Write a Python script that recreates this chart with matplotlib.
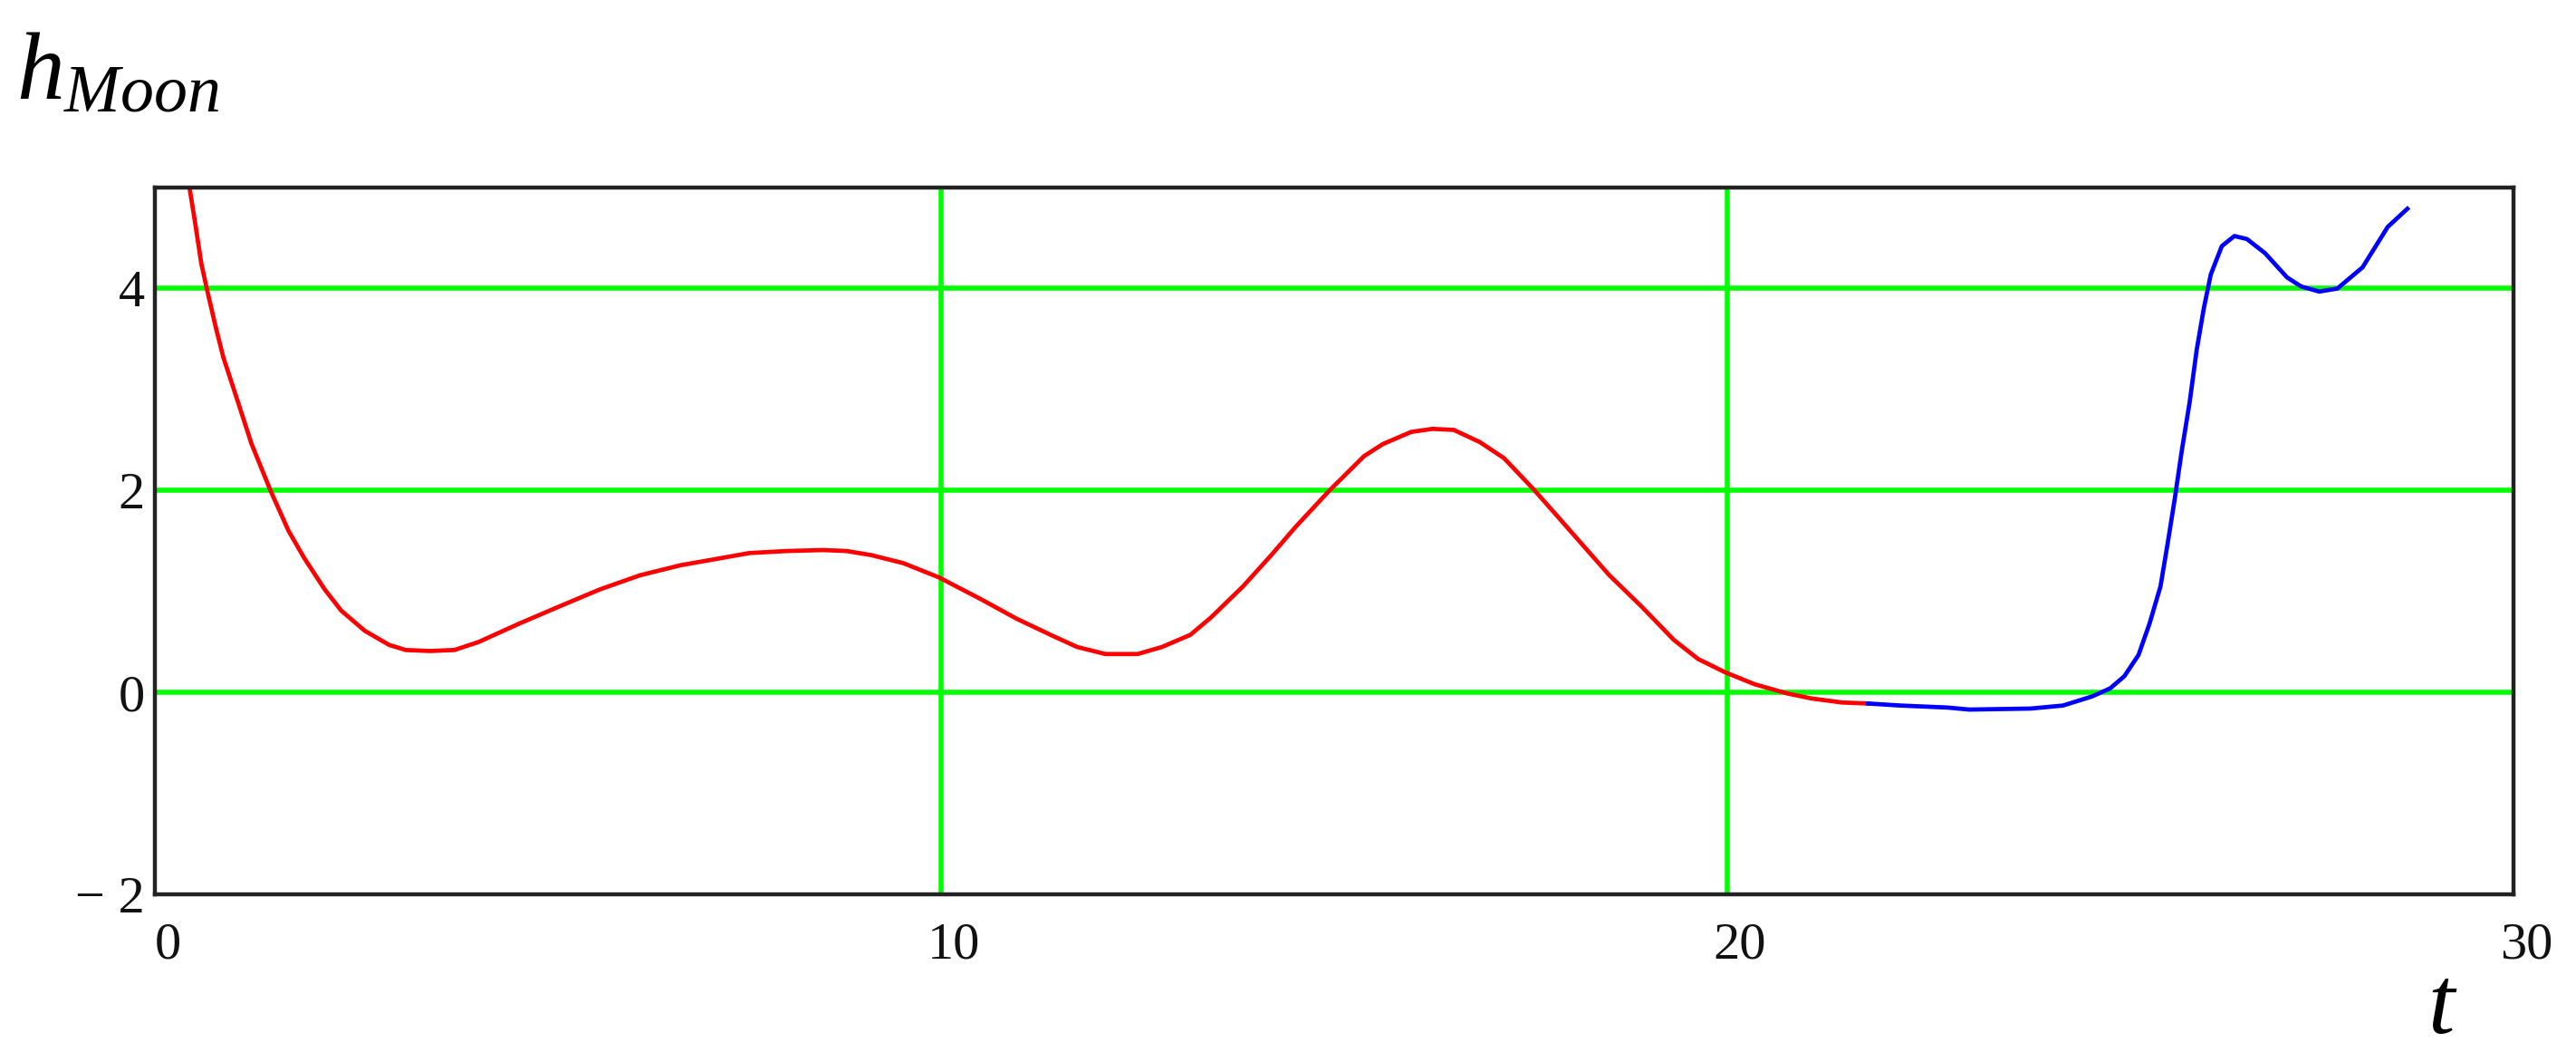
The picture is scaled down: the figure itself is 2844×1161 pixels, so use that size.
import matplotlib
matplotlib.use("Agg")
import matplotlib.pyplot as plt
import matplotlib.transforms as mtransforms

# ---- data ----
t_red = [0.44, 0.51, 0.59, 0.66, 0.77, 0.87, 1.03, 1.23, 1.47, 1.70, 1.90, 2.16, 2.37,
         2.67, 2.98, 3.19, 3.50, 3.81, 4.12, 4.63, 5.14, 5.66, 6.17, 6.69, 7.20, 7.56,
         8.03, 8.50, 8.80, 9.11, 9.52, 9.97, 10.49, 10.96, 11.42, 11.73, 12.09, 12.50,
         12.81, 13.17, 13.43, 13.84, 14.20, 14.51, 14.94, 15.38, 15.62, 15.98, 16.25,
         16.52, 16.85, 17.16, 17.55, 17.98, 18.50, 18.91, 19.32, 19.63, 19.97, 20.35,
         20.76, 21.07, 21.46, 21.79]
h_red = [5.00, 4.66, 4.25, 4.00, 3.63, 3.32, 2.94, 2.46, 2.00, 1.60, 1.33, 1.02, 0.81,
         0.61, 0.47, 0.42, 0.41, 0.42, 0.50, 0.68, 0.85, 1.02, 1.16, 1.26, 1.33, 1.38,
         1.40, 1.41, 1.40, 1.36, 1.28, 1.14, 0.93, 0.73, 0.56, 0.45, 0.38, 0.38,
         0.45, 0.57, 0.74, 1.05, 1.36, 1.64, 2.00, 2.34, 2.46, 2.58, 2.61,
         2.60, 2.48, 2.32, 2.00, 1.62, 1.16, 0.85, 0.52, 0.33, 0.20, 0.08,
         -0.01, -0.06, -0.10, -0.11]

t_blue = [21.79, 22.20, 22.80, 23.08, 23.86, 24.27, 24.64, 24.87, 25.05, 25.23, 25.37,
          25.51, 25.60, 25.69, 25.78, 25.88, 25.97, 26.06, 26.15, 26.29, 26.45, 26.61,
          26.84, 27.12, 27.30, 27.53, 27.76, 28.08, 28.40, 28.65]
h_blue = [-0.11, -0.13, -0.15, -0.17, -0.16, -0.13, -0.04, 0.04, 0.16, 0.37, 0.68,
          1.05, 1.47, 1.91, 2.39, 2.87, 3.39, 3.80, 4.14, 4.42, 4.52, 4.49,
          4.35, 4.11, 4.02, 3.97, 4.00, 4.21, 4.61, 4.79]

x_ticks = [0, 10, 20, 30]
x_ticklabels = ["0", "10", "20", "30"]
y_ticks = [-2, 0, 2, 4]
y_ticklabels = ["\u2212 2", "0", "2", "4"]

plt.rcParams['mathtext.fontset'] = 'custom'
plt.rcParams['mathtext.rm'] = 'Liberation Serif'
plt.rcParams['mathtext.it'] = 'Liberation Serif:italic'

W, H = 2844, 1161
fig = plt.figure(figsize=(W / 100, H / 100), dpi=100)
ax = fig.add_axes([171 / W, 1 - 987 / H, (2775 - 171) / W, (987 - 207) / H])

ax.set_xlim(0, 30)
ax.set_ylim(-2, 5)

for gx in [10, 20]:
    ax.axvline(gx, color='#00ff00', lw=4.0, zorder=1)
for gy in [0, 2, 4]:
    ax.axhline(gy, color='#00ff00', lw=4.0, zorder=1)

ax.plot(t_red, h_red, color='#ff0000', lw=3.4, zorder=3, solid_joinstyle='round')
ax.plot(t_blue, h_blue, color='#0000ff', lw=3.4, zorder=3, solid_joinstyle='round')

ax.set_xticks(x_ticks)
ax.set_xticklabels(x_ticklabels)
ax.set_yticks(y_ticks)
ax.set_yticklabels(y_ticklabels)
ax.tick_params(length=0, labelsize=42)
ax.tick_params(axis='x', pad=22)
ax.tick_params(axis='y', pad=8)
for lab in ax.get_xticklabels() + ax.get_yticklabels():
    lab.set_fontfamily('Liberation Serif')
    lab.set_color('#111111')
off = mtransforms.ScaledTranslation(14 / 100, 0, fig.dpi_scale_trans)
for lab in ax.get_xticklabels():
    lab.set_transform(lab.get_transform() + off)

for sp in ax.spines.values():
    sp.set_color('#222222')
    sp.set_linewidth(3.2)
    sp.set_zorder(5)

fig.text(18 / W, 1 - 110 / H, r'$h_{Moon}$', fontsize=76, ha='left', va='baseline')
fig.text(2697 / W, 1 - 1140 / H, r'$t$', fontsize=76, ha='center', va='baseline')

fig.savefig('out.png', dpi=100, facecolor='white')
